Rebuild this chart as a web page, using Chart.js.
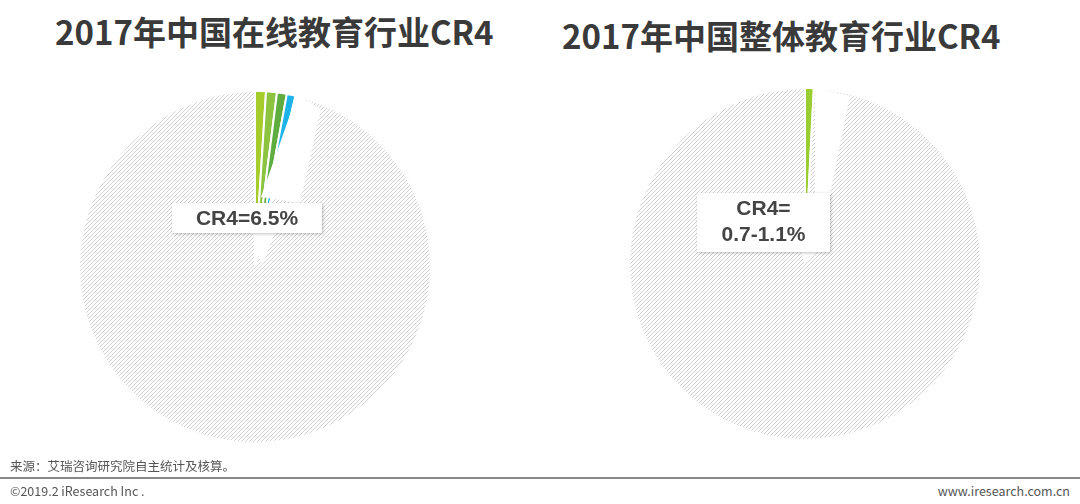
<!DOCTYPE html>
<html><head><meta charset="utf-8">
<script src="https://cdn.jsdelivr.net/npm/chart.js"></script>
<style>
body{margin:0;width:1080px;height:504px;background:#fff;font-family:"Noto Sans CJK SC","Noto Sans",sans-serif;position:relative;overflow:hidden}
.t{position:absolute;font-weight:bold;font-size:33px;color:#3a3a3a;white-space:nowrap}
.c{position:absolute;width:500px;height:380px}
.box{position:absolute;background:#fff;box-shadow:1px 1px 3px rgba(0,0,0,.25);font-family:Arial,"Liberation Sans",sans-serif;font-weight:bold;font-size:21px;color:#444;text-align:center;line-height:26px}
.f{position:absolute;font-size:12.5px;color:#555}
</style></head><body>
<div class="t" style="left:55px;top:7px">2017年中国在线教育行业CR4</div>
<div class="t" style="left:562px;top:11px">2017年中国整体教育行业CR4</div>
<div class="c" style="left:5px;top:78px"><canvas id="a"></canvas></div>
<div class="c" style="left:555px;top:75px"><canvas id="b"></canvas></div>
<div class="box" style="left:172px;top:203px;width:150px;height:30px;line-height:30px">CR4=6.5%</div>
<div class="box" style="left:697px;top:193px;width:133px;height:57px;padding-top:2px">CR4=<br>0.7-1.1%</div>
<div class="f" style="left:10px;top:456px">来源：艾瑞咨询研究院自主统计及核算。</div>
<div style="position:absolute;left:0;top:477px;width:1080px;height:2px;background:#888"></div>
<div class="f" style="left:10px;top:481px">©2019.2 iResearch Inc .</div>
<div class="f" style="right:10px;top:481px">www.iresearch.com.cn</div>
<script>
const onlineLabels=["A","B","C","D","其他"];
const onlineValues=[1.0,1.0,0.9,0.8,96.3];
const totalLabels=["CR4","其他"];
const totalValues=[0.8,99.2];
function hatch(){const c=document.createElement('canvas');c.width=c.height=4;const x=c.getContext('2d');x.fillStyle='#fff';x.fillRect(0,0,4,4);x.strokeStyle='#c4c4c4';x.lineWidth=0.8;x.beginPath();x.moveTo(0,4);x.lineTo(4,0);x.moveTo(-1,1);x.lineTo(1,-1);x.moveTo(3,5);x.lineTo(5,3);x.stroke();return x.createPattern(c,'repeat');}
const H=hatch();
function ptr(polys){return{id:'p',afterDatasetsDraw(ch){const x=ch.ctx,m=ch.getDatasetMeta(0).data[0];x.save();x.fillStyle='#fff';polys.forEach(p=>{x.beginPath();p.forEach((q,i)=>{const X=m.x+q[0],Y=m.y+q[1];i?x.lineTo(X,Y):x.moveTo(X,Y)});x.fill();});x.restore();}}}
const opt={responsive:false,animation:false,plugins:{legend:{display:false},tooltip:{enabled:false}}};
function mk(id,labels,vals,colors,polys){const cv=document.getElementById(id);cv.width=500;cv.height=380;
new Chart(cv,{type:'pie',data:{labels,datasets:[{data:vals,backgroundColor:colors,borderColor:'#fff',borderWidth:2}]},options:{...opt,layout:{padding:{top:12,bottom:14}}},plugins:[ptr(polys)]});}
mk('a',onlineLabels,onlineValues,['#a6cc2c','#8cc43f','#5fad3e','#1cb4e8',H],[[[6,-70],[42,-172],[66,-158],[45,-64]],[[-3,-36],[7,0],[20,-36]]]);
mk('b',totalLabels,totalValues,['#9acd32',H],[[[10,-70],[10,-176],[45,-168],[25,-70]],[[-5,-16],[0,0],[15,-16]]]);
</script></body></html>
